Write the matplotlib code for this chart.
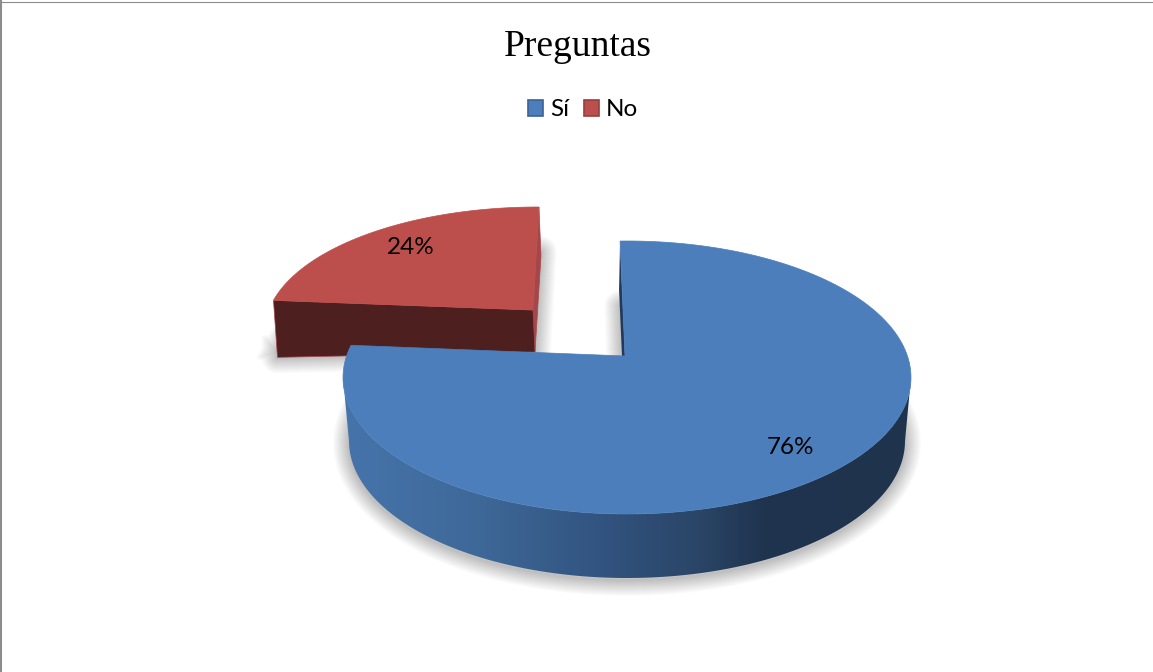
"""Exploded 3D-look pie chart, drawn on an axes that runs in image pixels."""

import matplotlib as mpl

mpl.use("Agg")
import matplotlib.pyplot as plt
import numpy as np
from matplotlib.colors import LinearSegmentedColormap
from matplotlib.patches import Patch, Polygon

TITLE = "Preguntas"
CATEGORIES = ["Sí", "No"]
SHARES = [76, 24]

BLUE = "#4c7ebb"
RED = "#bc4f4c"
RED_DARK = "#4d1f1e"
RED_EDGE = "#a5474a"
BLUE_SIDE = [
    (0.0, "#4674ab"),
    (0.24, "#3e6898"),
    (0.45, "#325480"),
    (0.63, "#2a4566"),
    (0.74, "#1f344f"),
    (1.0, "#1f334d"),
]

W, H = 1153, 672


def rim(apex, centre, rx, ry, t0, t1, lean):
    """Points on an ellipse reached by rays from the (off-centre) apex, angles in degrees."""
    t = np.radians(np.linspace(t0, t1, 200))
    dx = rx * np.sin(t) + lean * 1.3 * ry * np.cos(t)
    dy = -1.3 * ry * np.cos(t)
    ox = (apex[0] - centre[0]) / rx
    oy = (apex[1] - centre[1]) / ry
    a = (dx / rx) ** 2 + (dy / ry) ** 2
    b = 2 * (ox * dx / rx + oy * dy / ry)
    c = ox**2 + oy**2 - 1
    s = (-b + np.sqrt(b**2 - 4 * a * c)) / (2 * a)
    return np.column_stack([apex[0] + s * dx, apex[1] + s * dy])


def shadow(ax, outline, zorder):
    closed = np.vstack([outline, outline[:1]])
    for px in range(2, 34, 2):
        ax.plot(closed[:, 0], closed[:, 1], color="black", alpha=0.016, lw=px * 0.72,
                solid_joinstyle="round", zorder=zorder)


plt.rcParams["font.family"] = ["Lato", "DejaVu Sans"]
fig = plt.figure(figsize=(W / 100, H / 100), dpi=100)
ax = fig.add_axes([0, 0, 1, 1])
ax.axis("off")

sweep = 360 * SHARES[0] / sum(SHARES)

# --- "No" slice, pulled out to the upper left ---
red_apex = np.array([533.0, 310.0])
red_rim = rim(red_apex, (538, 331), 273, 124, sweep, 360, 0.058)
red_low = rim(red_apex + (2, 42), (540, 376), 268, 124, sweep, 360, 0.058)
left, top = red_rim[0], red_rim[-1]
low_left, low_apex = left + (4, 57), red_apex + (2, 42)

shadow(ax, np.vstack([low_left + (0, -6), red_low, [low_apex], [low_left]]), 1)
ax.add_patch(Polygon([top, top + (2, 49), low_apex, red_apex], fc=RED_EDGE, ec=RED_EDGE, lw=0.5, zorder=2))
ax.add_patch(Polygon([left, red_apex, low_apex, low_left], fc=RED_DARK, ec=RED_EDGE, lw=0.5, zorder=2))
ax.add_patch(Polygon(np.vstack([[red_apex], red_rim]), fc=RED, ec=RED, lw=0.5, zorder=3))

# --- "Sí" slice ---
blue_apex = np.array([625.0, 356.0])
blue_rim = rim(blue_apex, (627, 377.5), 284, 136.5, 0, sweep, -0.043)
blue_low = rim(blue_apex + (0, 56), (627, 441), 278, 137, 0, sweep, -0.043)

shadow(ax, np.vstack([[blue_apex + (-1, 56)], blue_low + (0, 2)]), 4)

# curved wall under the rim, shaded left to right
t = np.radians(np.linspace(-90, -270, 200))
wall = np.vstack([
    np.column_stack([627 + 278 * np.sin(t), 441 - 137 * np.cos(t)]),
    np.column_stack([627 + 284 * np.sin(t[::-1]), 377.5 - 136.5 * np.cos(t[::-1])]),
])
wall_patch = Polygon(wall, fc="none", ec="none", zorder=5)
ax.add_patch(wall_patch)
cmap = LinearSegmentedColormap.from_list("side", BLUE_SIDE)
shade = ax.imshow(np.linspace(0, 1, 256)[None, :], cmap=cmap, aspect="auto",
                  extent=(343, 911, 600, 370), zorder=5, interpolation="bilinear")
shade.set_clip_path(wall_patch)

# thin dark wall seen along the cut edge
first = blue_rim[0]
ax.add_patch(Polygon([first, first + (-1, 49), blue_apex + (-3, 0), blue_apex],
                     fc="#1f3a5c", ec="none", zorder=5))
ax.add_patch(Polygon(np.vstack([[blue_apex], blue_rim]), fc=BLUE, ec=BLUE, lw=0.5, zorder=6))

# --- labels ---
ax.text(411, 247, f"{SHARES[1]}%", ha="center", va="center", fontsize=17.5, color="black", zorder=7)
ax.text(791, 448, f"{SHARES[0]}%", ha="center", va="center", fontsize=17.5, color="black", zorder=7)
ax.text(578, 47, TITLE, ha="center", va="center", fontsize=27, color="black",
        family=["Liberation Serif"], zorder=7)

handles = [
    Patch(facecolor=BLUE, edgecolor="#3a6493", linewidth=1.2, label=CATEGORIES[0]),
    Patch(facecolor=RED, edgecolor="#94403e", linewidth=1.2, label=CATEGORIES[1]),
]
ax.legend(handles=handles, ncol=2, loc="center", bbox_to_anchor=(583, 110),
          bbox_transform=ax.transData, frameon=False, fontsize=17.5, handlelength=0.62,
          handleheight=0.62, handletextpad=0.3, columnspacing=0.6, borderpad=0,
          labelcolor="black")

# frame remnants at the picture's left and top edges
ax.plot([1, 1], [0, H], color="#8c8c8c", lw=1.5, zorder=8)
ax.plot([0, W], [1.5, 1.5], color="#8c8c8c", lw=0.8, zorder=8)

ax.set_xlim(0, W)
ax.set_ylim(H, 0)

fig.savefig("out.png", dpi=100)
